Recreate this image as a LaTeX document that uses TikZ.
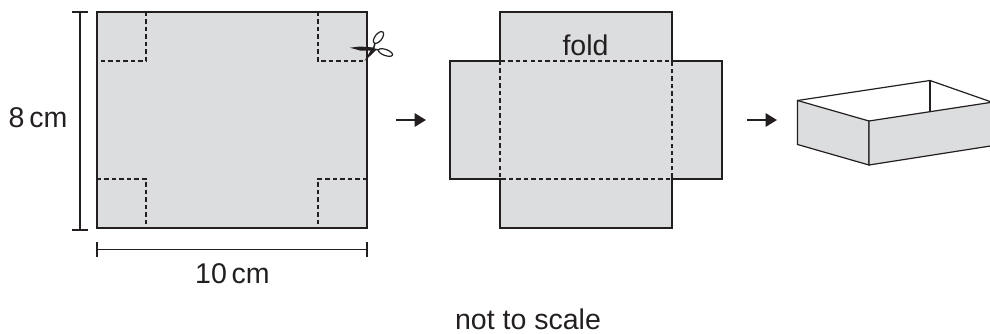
\documentclass[tikz,border=0pt]{standalone}
\usepackage{fontspec}
\setmainfont{Liberation Sans}
\usetikzlibrary{arrows.meta}
\definecolor{paper}{RGB}{220,221,223}
\definecolor{ink}{RGB}{35,31,32}
\tikzset{
  px/.style={x=0.75pt,y=-0.75pt},
  outline/.style={draw=ink,line width=0.9pt,fill=paper,line join=miter},
  foldline/.style={draw=ink,line width=0.95pt,dash pattern=on 3.3pt off 2.3pt},
  dimline/.style={draw=ink,line width=0.8pt},
  flowarrow/.style={draw=ink,line width=1.5pt,-{Triangle[length=8.5pt,width=10pt]}},
  label/.style={text=ink,font=\fontsize{21.4}{24}\selectfont,inner sep=0pt,anchor=base}
}
\begin{document}
\begin{tikzpicture}[px]
\useasboundingbox (0,0) rectangle (990,333);
% sheet
\draw[outline] (97,12) rectangle (367,228);
\draw[foldline] (146,12) -- (146,61) -- (97,61);
\draw[foldline] (318,12) -- (318,61) -- (367,61);
\draw[foldline] (97,179) -- (146,179) -- (146,228);
\draw[foldline] (367,179) -- (318,179) -- (318,228);
% dimensions
\coordinate (vt) at (80,12); \coordinate (vb) at (80,230);
\draw[dimline] (vt) -- (vb);
\draw[dimline] (72,12) -- (88,12);
\draw[dimline] (72,230) -- (88,230);
\coordinate (hl) at (97,249.5); \coordinate (hr) at (367,249.5);
\draw[dimline] (hl) -- (hr);
\draw[dimline] (97,242) -- (97,257);
\draw[dimline] (367,242) -- (367,257);
\node[label] (h) at (38,127) {8\,cm};
\node[label] (w) at (232.5,283) {10\,cm};
% scissors
\fill[ink] (374,47.5) -- (360,46.5) -- (350,47.7) -- (360,50.5) -- (374,50.5) -- cycle;
\fill[ink] (372,48) -- (364.5,61) -- (370,56) -- (376,50) -- cycle;
\draw[ink,line width=0.9pt,fill=white,rotate around={52:(378.5,37.5)}] (378.5,37.5) ellipse (7 and 3.5);
\draw[ink,line width=0.9pt,fill=white,rotate around={-20:(385.5,52.5)}] (385.5,52.5) ellipse (7.5 and 3);
\draw[ink,line width=1.1pt] (373.5,49) -- (375,43);
\draw[ink,line width=1.1pt] (373.5,49) -- (379,50);
% net
\draw[outline] (500,12) -- (672,12) -- (672,61) -- (722,61) -- (722,179) -- (672,179) -- (672,228) -- (500,228) -- (500,179) -- (450,179) -- (450,61) -- (500,61) -- cycle;
\draw[foldline] (500,61) rectangle (672,179);
\node[label] (f) at (585.5,55) {fold};
% arrows
\coordinate (a1s) at (396,120); \coordinate (a1e) at (426,120);
\draw[flowarrow] (a1s) -- (a1e);
\coordinate (a2s) at (747,120); \coordinate (a2e) at (777,120);
\draw[flowarrow] (a2s) -- (a2e);
% box
\begin{scope}
\clip (780,70) rectangle (990,180);
\draw[ink,line width=0.9pt,line join=miter] (930,80.5) -- (930,111);
\draw[ink,line width=0.9pt,line join=miter] (797.5,100.5) -- (930,80.5) -- (1000,105);
\draw[outline] (797.5,100.5) -- (869,121) -- (869,165) -- (797.5,144.5) -- cycle;
\draw[outline] (869,121) -- (1000,101) -- (1000,144.5) -- (869,165) -- cycle;
\end{scope}
\node[label] (n) at (528,329) {not to scale};
\end{tikzpicture}
\end{document}
